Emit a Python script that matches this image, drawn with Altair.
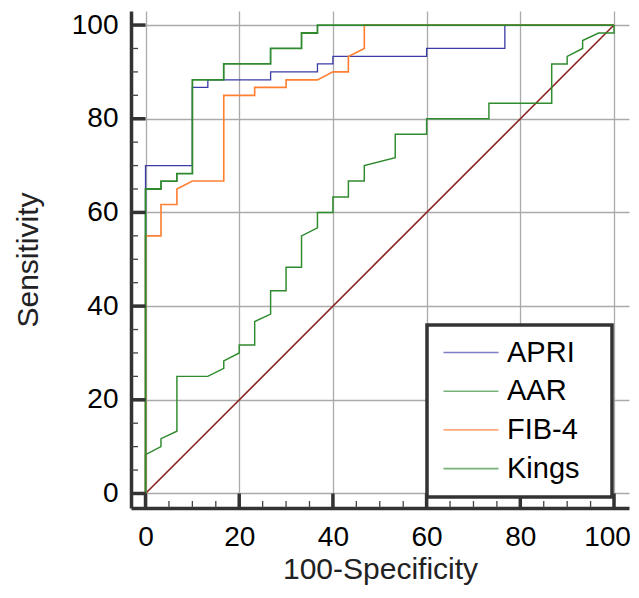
import altair as alt
import pandas as pd

# ---- data ----
series_names = ["APRI", "AAR", "FIB-4", "Kings"]
series_colors = ["#3b3ba8", "#2e8b2e", "#ff7f33", "#2f8a2f"]
series_widths = [1.3, 1.8, 2.3, 1.8]

apri_x = [0, 0, 10, 10, 13.3, 13.3, 26.7, 26.7, 36.7, 36.7, 40, 40, 60, 60, 76.7, 76.7, 100]
apri_y = [0, 70, 70, 86.7, 86.7, 88.3, 88.3, 90, 90, 91.7, 91.7, 93.3, 93.3, 95, 95, 100, 100]

aar_x = [0, 0, 3.3, 3.3, 6.7, 6.7, 13.3, 16.7, 16.7, 20, 20, 23.3, 23.3, 26.7, 26.7, 30, 30,
         33.3, 33.3, 36.7, 36.7, 40, 40, 43.3, 43.3, 46.7, 46.7, 53.3, 53.3, 60, 60, 73.3, 73.3,
         86.7, 86.7, 90, 90, 93.3, 93.3, 96.7, 100, 100]
aar_y = [0, 8.3, 10, 11.7, 13.3, 25, 25, 26.7, 28.3, 30, 31.7, 31.7, 36.7, 38.3, 43.3, 43.3, 48.3,
         48.3, 55, 56.7, 60, 60, 63.3, 63.3, 66.7, 66.7, 70, 71.7, 76.7, 76.7, 80, 80, 83.3,
         83.3, 91.7, 91.7, 93.3, 95, 96.7, 98.3, 98.3, 100]

fib4_x = [0, 0, 3.3, 3.3, 6.7, 6.7, 10, 16.7, 16.7, 23.3, 23.3, 30, 30, 36.7, 40, 43.3, 43.3, 46.7, 46.7, 100]
fib4_y = [0, 55, 55, 61.7, 61.7, 65, 66.7, 66.7, 85, 85, 86.7, 86.7, 88.3, 88.3, 90, 90, 93.3, 95, 100, 100]

kings_x = [0, 0, 3.3, 3.3, 6.7, 6.7, 10, 10, 16.7, 16.7, 26.7, 26.7, 33.3, 33.3, 36.7, 36.7, 100]
kings_y = [0, 65, 65, 66.7, 66.7, 68.3, 68.3, 88.3, 88.3, 91.7, 91.7, 95, 95, 98.3, 98.3, 100, 100]

diag_x = [0, 100]
diag_y = [0, 100]

grid_values = [0, 20, 40, 60, 80, 100]
minor_values = [5, 10, 15, 25, 30, 35, 45, 50, 55, 65, 70, 75, 85, 90, 95]

# ---- tables ----
rows = []
for name, xs, ys in [("APRI", apri_x, apri_y), ("AAR", aar_x, aar_y),
                     ("FIB-4", fib4_x, fib4_y), ("Kings", kings_x, kings_y)]:
    for i, (xv, yv) in enumerate(zip(xs, ys)):
        rows.append({"series": name, "fpr": xv, "tpr": yv, "idx": i})
curves_df = pd.DataFrame(rows)
diag_df = pd.DataFrame({"fpr": diag_x, "tpr": diag_y})
major_df = pd.DataFrame({"fpr": grid_values, "tpr": grid_values})
minor_df = pd.DataFrame({"fpr": minor_values, "tpr": minor_values})

W, H = 498, 497
FONT = "Liberation Sans"

xscale = alt.Scale(domain=[-3.1, 103.2], nice=False, zero=False)
yscale = alt.Scale(domain=[-3.1, 103.0], nice=False, zero=False)
x_axis = alt.Axis(
    values=grid_values,
    title="100-Specificity",
    labelFlush=False,
    labelOffset={"condition": {"test": "datum.value == 100", "value": -7}, "value": 0},
)
y_axis = alt.Axis(values=grid_values, title="Sensitivity", labelFlush=False)


def X():
    return alt.X("fpr:Q", scale=xscale, axis=x_axis)


def Y():
    return alt.Y("tpr:Q", scale=yscale, axis=y_axis)


diag = alt.Chart(diag_df).mark_line(color="#8b2323", strokeWidth=1.6).encode(x=X(), y=Y())

curves = alt.Chart(curves_df).mark_line().encode(
    x=X(),
    y=Y(),
    color=alt.Color(
        "series:N",
        scale=alt.Scale(domain=series_names, range=series_colors),
        legend=alt.Legend(
            title=None,
            orient="none",
            legendX=296,
            legendY=314,
            symbolType="M-1,0H4M12.8,0",
            symbolSize=484,
            symbolStrokeWidth=1.5,
            symbolOpacity=0.65,
            labelFontSize=29,
            labelFont=FONT,
            labelColor="black",
            labelOffset=38,
            rowPadding=8.7,
            padding=13,
            strokeColor="#333333",
            fillColor="white",
        ),
    ),
    strokeWidth=alt.StrokeWidth(
        "series:N", scale=alt.Scale(domain=series_names, range=series_widths), legend=None
    ),
    order="idx:Q",
)

y_major = alt.Chart(major_df).mark_rule(color="#333333", strokeWidth=3.5).encode(
    y=Y(), x=alt.value(0), x2=alt.value(14.5)
)
y_minor = alt.Chart(minor_df).mark_rule(color="#444444", strokeWidth=1.3).encode(
    y=Y(), x=alt.value(0), x2=alt.value(7)
)
x_major = alt.Chart(major_df).mark_rule(color="#333333", strokeWidth=3.5).encode(
    x=X(), y=alt.value(H), y2=alt.value(H - 14.5)
)
x_minor = alt.Chart(minor_df).mark_rule(color="#444444", strokeWidth=1.3).encode(
    x=X(), y=alt.value(H), y2=alt.value(H - 7)
)

chart = (
    alt.layer(diag, curves, y_major, y_minor, x_major, x_minor)
    .properties(
        width=W,
        height=H,
        autosize=alt.AutoSizeParams(type="none"),
        padding={"left": 123, "top": 3, "right": 2, "bottom": 77},
    )
    .configure_view(stroke=None)
    .configure_axis(
        domainColor="#333333",
        domainWidth=3.5,
        ticks=False,
        tickSize=0,
        gridColor="#aaaaaa",
        gridWidth=1.3,
        labelFont=FONT,
        labelFontSize=28,
        labelColor="black",
        titleFont=FONT,
        titleFontSize=30,
        titleFontWeight="normal",
        titleColor="#222222",
    )
    .configure_axisX(labelPadding=15, titlePadding=3)
    .configure_axisY(labelPadding=13, titlePadding=28)
    .configure_legend(strokeWidth=3.5)
)

chart.save("out.html", embed_options={"renderer": "svg", "actions": False})
